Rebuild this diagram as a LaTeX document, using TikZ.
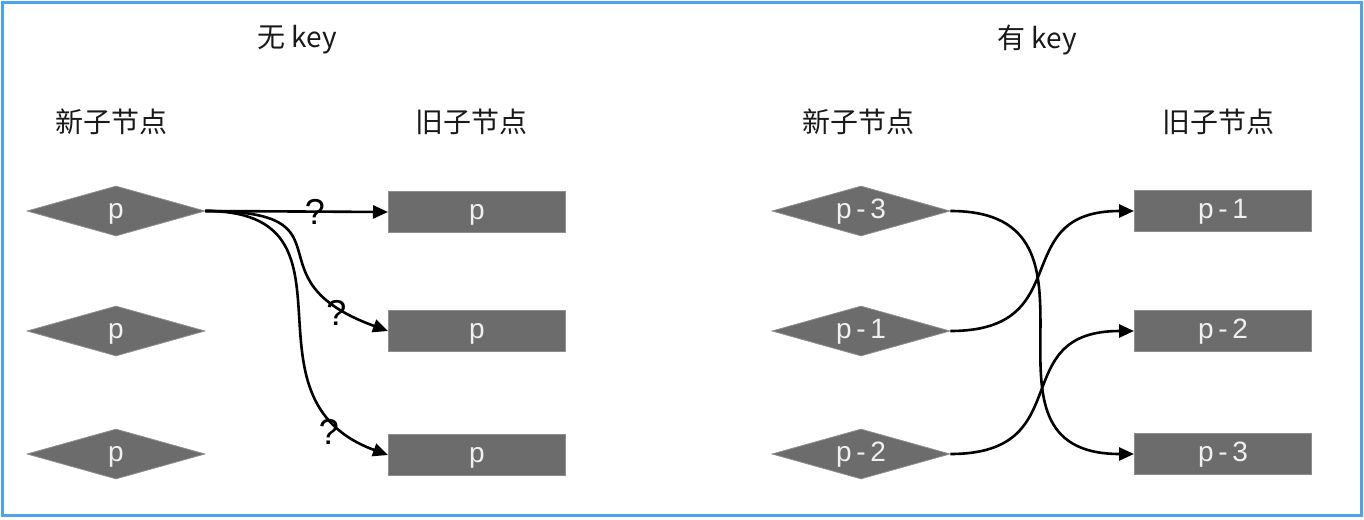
\documentclass[tikz,border=0pt]{standalone}
\usepackage{fontspec}
\setmainfont{Liberation Sans}
\newfontfamily\cjk{Noto Sans CJK SC}
\usetikzlibrary{shapes.geometric,arrows.meta,positioning}

\definecolor{framblue}{HTML}{4DA3EE}
\definecolor{boxgray}{HTML}{6C6C6C}
\definecolor{edgegray}{HTML}{8E8E8E}

\begin{document}
\begin{tikzpicture}[x=0.5pt,y=-0.5pt,
    newnode/.style={diamond,aspect=3.5,fill=boxgray,draw=edgegray,line width=0.4pt,
      minimum width=89pt,minimum height=25pt,inner sep=0pt,text=white!94!black,
      text height=10pt,text depth=3pt,font=\fontsize{14}{16}\selectfont},
    oldnode/.style={rectangle,fill=boxgray,draw=edgegray,line width=0.5pt,
      minimum width=88.5pt,minimum height=20.5pt,inner sep=0pt,text=white!94!black,
      text height=10pt,text depth=3pt,font=\fontsize{14}{16}\selectfont},
    head/.style={font=\cjk\fontsize{14}{16}\selectfont,text=black!90},
    link/.style={line width=1.3pt,-{Triangle[length=7.5pt,width=6.5pt]}},
    ask/.style={font=\fontsize{18}{20}\selectfont,inner sep=0pt}]
    \useasboundingbox (0,0) rectangle (1364,519);
    \draw[framblue,line width=1.5pt] (2,3) rectangle (1361,515);

    \node[head] (tnokey) at (297,40) {无 key};
    \node[head] (tkey)   at (1037,40) {有 key};
    \node[head] (hnewl)  at (111,122) {新子节点};
    \node[head] (holdl)  at (471,122) {旧子节点};
    \node[head] (hnewr)  at (858,122) {新子节点};
    \node[head] (holdr)  at (1218,122) {旧子节点};

    \node[newnode] (ln1) at (116,211) {p};
    \node[newnode] (ln2) at (116,331) {p};
    \node[newnode] (ln3) at (116,454) {p};
    \node[oldnode] (lo1) at (477,212) {p};
    \node[oldnode] (lo2) at (477,331) {p};
    \node[oldnode] (lo3) at (477,455) {p};

    \node[newnode] (rn3) at (861,211) {p\,-\,3};
    \node[newnode] (rn1) at (861,331) {p\,-\,1};
    \node[newnode] (rn2) at (861,454) {p\,-\,2};
    \node[oldnode] (ro1) at (1223,211) {p\,-\,1};
    \node[oldnode] (ro2) at (1223,331) {p\,-\,2};
    \node[oldnode] (ro3) at (1223,454) {p\,-\,3};

    \draw[link] (ln1.east) -- node[ask,pos=0.6] (ask1) {?} (lo1.west);
    \draw[link] (ln1.east) to[out=0,in=160,looseness=1.8]
      node[ask,pos=0.84,yshift=-4pt] (ask2) {?} (lo2.west);
    \draw[link] (ln1.east) to[out=0,in=160,looseness=1.4]
      node[ask,pos=0.83,xshift=-1pt,yshift=-8pt] (ask3) {?} (lo3.west);

    \draw[link] (rn3.east) to[out=0,in=180,looseness=1.5] (ro3.west);
    \draw[link] (rn1.east) to[out=0,in=180,looseness=1.5] (ro1.west);
    \draw[link] (rn2.east) to[out=0,in=180,looseness=1.5] (ro2.west);
\end{tikzpicture}
\end{document}
